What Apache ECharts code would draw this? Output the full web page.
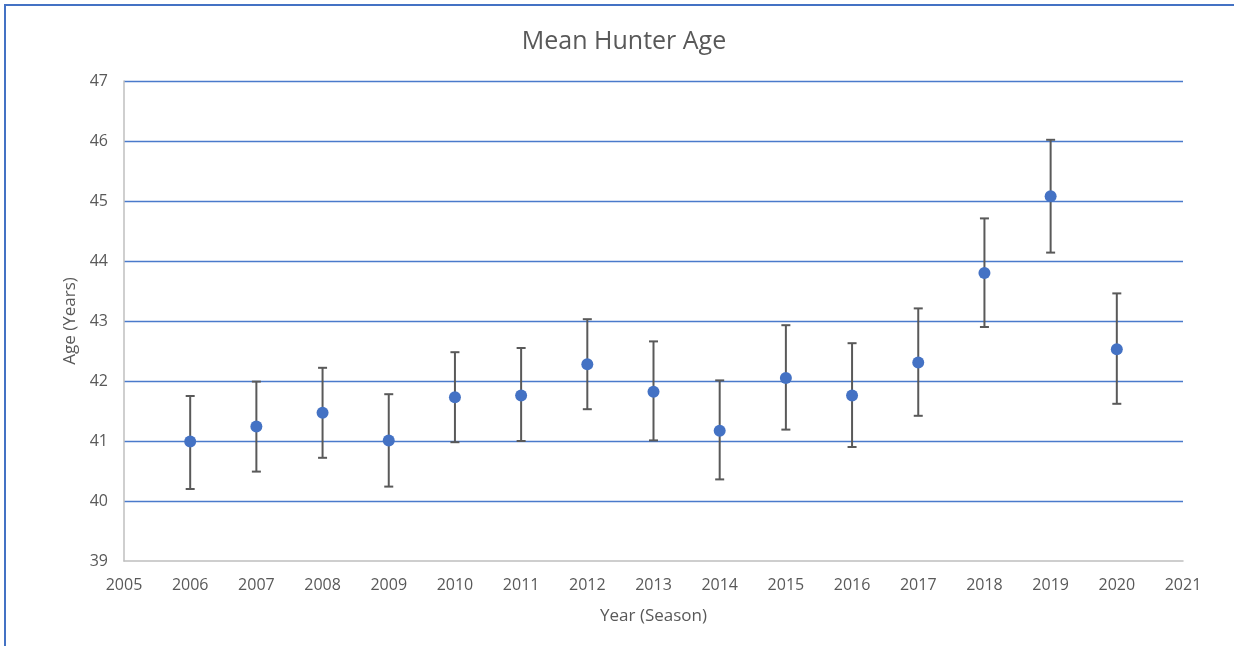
<!DOCTYPE html>
<html>
<head>
<meta charset="utf-8">
<script src="https://cdn.jsdelivr.net/npm/echarts@6/dist/echarts.min.js"></script>
<style>
  html, body { margin: 0; padding: 0; background: #fff; overflow: hidden; }
  #frame { position: absolute; left: 4px; top: 4px; width: 1240px; height: 660px;
           border-left: 2px solid #4472C4; border-top: 2px solid #4472C4; box-sizing: border-box; }
  #chart { position: absolute; left: 0; top: 0; width: 1234px; height: 646px; }
</style>
</head>
<body>
<div id="frame"></div>
<div id="chart"></div>
<script>
const years = [2006, 2007, 2008, 2009, 2010, 2011, 2012, 2013, 2014, 2015, 2016, 2017, 2018, 2019, 2020];
const meanAge = [40.99, 41.24, 41.47, 41.01, 41.73, 41.76, 42.28, 41.82, 41.17, 42.05, 41.76, 42.31, 43.80, 45.08, 42.53];
const lowerBound = [40.20, 40.49, 40.72, 40.24, 40.98, 41.00, 41.53, 41.01, 40.36, 41.19, 40.90, 41.42, 42.90, 44.14, 41.62];
const upperBound = [41.75, 41.99, 42.22, 41.78, 42.48, 42.55, 43.03, 42.66, 42.01, 42.93, 42.63, 43.21, 44.71, 46.02, 43.46];

const FONT = '"Open Sans", "Noto Sans", sans-serif';
const TXT = '#595959';

const chart = echarts.init(document.getElementById('chart'), null, { renderer: 'canvas' });

const errData = years.map((y, i) => [y, lowerBound[i], upperBound[i]]);
const ptData = years.map((y, i) => [y, meanAge[i]]);

chart.setOption({
  backgroundColor: 'transparent',
  animation: false,
  title: {
    text: 'Mean Hunter Age',
    left: 619, top: 24, textAlign: 'center',
    textStyle: { fontFamily: FONT, fontSize: 25, fontWeight: 'normal', color: TXT }
  },
  grid: { left: 124, right: 51, top: 81, bottom: 85 },
  xAxis: {
    type: 'value', min: 2005, max: 2021, interval: 1,
    name: 'Year (Season)', nameLocation: 'middle', nameGap: 47,
    nameTextStyle: { fontFamily: FONT, fontSize: 17, color: TXT },
    axisLine: { show: true, lineStyle: { color: '#BFBFBF', width: 1.5 } },
    axisTick: { show: false },
    splitLine: { show: false },
    axisLabel: { fontFamily: FONT, fontSize: 16, color: TXT, margin: 16, formatter: v => String(v) }
  },
  yAxis: {
    type: 'value', min: 39, max: 47, interval: 1,
    name: 'Age (Years)', nameLocation: 'middle', nameGap: 44, nameRotate: 90,
    nameTextStyle: { fontFamily: FONT, fontSize: 17, color: TXT },
    axisLine: { show: true, lineStyle: { color: '#BFBFBF', width: 1.5 } },
    axisTick: { show: false },
    splitLine: { show: true, showMinLine: false, lineStyle: { color: '#4A7ACB', width: 1.3 } },
    axisLabel: { fontFamily: FONT, fontSize: 16, color: TXT, margin: 16 }
  },
  series: [
    {
      type: 'custom',
      data: errData,
      z: 3,
      renderItem: function (params, api) {
        const x = api.value(0);
        const lo = api.coord([x, api.value(1)]);
        const hi = api.coord([x, api.value(2)]);
        const cap = 4.5;
        const style = { stroke: '#595959', lineWidth: 2, fill: null };
        return {
          type: 'group',
          children: [
            { type: 'line', shape: { x1: lo[0], y1: lo[1], x2: hi[0], y2: hi[1] }, style },
            { type: 'line', shape: { x1: hi[0] - cap, y1: hi[1], x2: hi[0] + cap, y2: hi[1] }, style },
            { type: 'line', shape: { x1: lo[0] - cap, y1: lo[1], x2: lo[0] + cap, y2: lo[1] }, style }
          ]
        };
      },
      encode: { x: 0, y: [1, 2] }
    },
    {
      type: 'scatter',
      data: ptData,
      z: 5,
      symbol: 'circle',
      symbolSize: 12,
      itemStyle: { color: '#4472C4', opacity: 1, borderWidth: 0 }
    }
  ]
});
</script>
</body>
</html>
